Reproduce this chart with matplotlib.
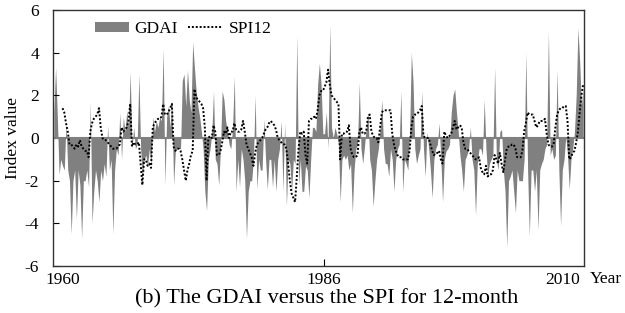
import matplotlib
matplotlib.use("Agg")
import matplotlib.pyplot as plt
import matplotlib.transforms as mtransforms
import numpy as np
from matplotlib.lines import Line2D
from matplotlib.patches import Patch

# Values, 6 readings per year (roughly bi-monthly)
start_year = 1960
steps_per_year = 6

gdai = [
    1.2, 3.3, 1.0, -1.7, -1.0, -1.3,      # 1960
    -1.5, 0.7, -1.5, -2.0, -4.5, -2.0,    # 1961
    -1.5, -3.8, -1.5, -2.2, -4.7, -2.0,   # 1962
    -2.0, -1.5, -2.3, 1.7, -4.0, -2.5,    # 1963
    -1.5, -2.0, -3.0, -1.5, -2.0, -1.2,   # 1964
    -1.8, 0.6, -1.5, -1.0, -4.5, -1.5,    # 1965
    -0.5, -0.8, 1.2, -1.0, 1.0, 0.3,      # 1966
    1.3, 0.5, 3.1, -0.5, 0.5, -0.5,       # 1967
    -0.3, 3.0, -0.5, -1.8, -1.0, -0.8,    # 1968
    -1.3, -0.5, -1.3, 1.0, 0.3, 0.8,      # 1969
    0.5, 1.0, 0.8, 4.2, -2.2, 1.0,        # 1970
    1.5, 0.5, 1.8, -2.2, -0.6, -0.5,      # 1971
    -0.5, -0.5, 2.7, 3.0, 1.5, 3.2,       # 1972
    1.8, 1.2, 4.5, 3.3, 2.2, 1.5,         # 1973
    1.0, 0.3, -0.5, -2.5, -3.4, -1.0,     # 1974
    -0.5, 0.2, 2.2, -1.0, -1.2, -2.2,     # 1975
    -0.5, 2.2, 1.8, 0.8, 0.3, -0.3,       # 1976
    -0.5, 0.5, 2.9, -2.5, -1.0, -2.3,     # 1977
    -0.5, -1.0, -2.0, -4.7, -2.5, -2.0,   # 1978
    -2.0, -1.0, 2.0, -2.4, -1.0, -1.5,    # 1979
    -1.5, 0.9, -1.0, -2.4, -1.0, -1.0,    # 1980
    -2.3, -1.0, -2.5, -1.0, -0.5, 0.8,    # 1981
    -2.5, 0.7, -3.2, -1.0, -1.2, -2.5,    # 1982
    -1.0, -1.2, 4.8, -2.2, -1.0, -2.5,    # 1983
    -2.5, -1.3, -1.5, -2.8, -1.0, 0.5,    # 1984
    0.5, 0.3, 2.5, 3.5, 2.5, 0.2,         # 1985
    0.2, 1.2, -0.5, 5.3, 0.5, 0.0,        # 1986
    0.5, 0.2, -0.3, -3.0, -1.0, -0.8,     # 1987
    -1.0, -0.8, -1.5, -1.2, -3.5, -1.5,   # 1988
    -0.5, -0.3, 2.6, -0.5, -1.2, -0.4,    # 1989
    0.5, 1.2, -1.0, -1.5, -3.2, -2.0,     # 1990
    -1.0, -0.5, 0.5, 1.8, -0.5, -1.2,     # 1991
    -1.2, -1.8, -0.5, -1.0, -2.5, -1.0,   # 1992
    -0.5, -0.3, 2.2, -2.5, -1.0, -1.2,    # 1993
    -1.5, 0.2, 4.0, 2.6, -0.5, -1.2,      # 1994
    -0.8, -0.5, 2.2, -0.5, -1.8, 0.3,     # 1995
    -0.5, -1.5, -2.8, -1.0, -0.5, -0.3,   # 1996
    0.7, -1.0, -3.0, -1.0, -0.6, -0.5,    # 1997
    -0.3, 1.2, 2.0, 2.3, 1.2, 0.3,        # 1998
    -0.8, -1.5, -2.5, -1.0, -0.8, -0.5,   # 1999
    0.5, -1.0, -1.5, -3.6, -1.2, -0.5,    # 2000
    -0.5, -0.8, 1.8, -0.5, -1.8, -1.2,    # 2001
    -1.0, -0.8, 3.3, -1.0, -1.5, 0.3,     # 2002
    0.4, -1.5, -2.5, -5.1, -2.0, -1.8,    # 2003
    -1.5, -2.5, -3.5, -1.5, -2.0, -2.0,   # 2004
    -2.0, -1.0, 4.0, -1.5, -4.6, -1.5,    # 2005
    -1.5, -2.5, -1.5, -4.3, -1.5, -1.2,   # 2006
    -1.0, -0.5, -0.3, 5.0, -0.8, -0.5,    # 2007
    -1.0, -0.8, 3.2, -1.5, -4.1, -1.5,    # 2008
    -1.0, 0.1, -0.8, -2.4, -1.0, -0.5,    # 2009
    0.3, 2.0, 5.15, 3.6, 1.5, 2.4,        # 2010
]

spi12 = [
    np.nan, np.nan, np.nan, np.nan, np.nan, 1.4,  # 1960
    1.2, 0.7, 0.3, -0.3, -0.3, -0.4,      # 1961
    -0.5, -0.3, -0.4, -0.1, -0.4, -0.5,   # 1962
    -0.6, -0.6, -0.9, 0.3, 0.7, 0.9,      # 1963
    1.0, 1.1, 1.4, 0.5, 0.0, -0.1,        # 1964
    -0.1, -0.2, -0.3, -0.4, -0.5, -0.5,   # 1965
    -0.5, -0.4, -0.3, 0.5, 0.3, 0.4,      # 1966
    0.5, 0.8, 1.6, -0.4, -0.2, -0.3,      # 1967
    -0.3, -0.2, -1.2, -2.2, -1.0, -1.0,   # 1968
    -1.3, -1.2, -1.4, 0.5, 0.7, 0.8,      # 1969
    0.9, 0.9, 1.0, 1.6, 1.1, 1.1,         # 1970
    1.2, 1.4, 1.6, -0.4, -0.6, -0.5,      # 1971
    -0.5, -0.6, -1.0, -1.5, -2.0, -1.5,   # 1972
    -1.2, -0.8, -0.6, 2.3, 1.9, 1.8,      # 1973
    1.7, 1.6, 1.4, 0.5, -2.0, 0.0,        # 1974
    0.1, 0.0, 0.6, 0.3, -0.8, -0.8,       # 1975
    -0.6, -0.2, 0.3, 0.2, 0.5, 0.0,       # 1976
    0.3, 0.3, 0.7, 0.4, 0.3, 0.3,         # 1977
    0.4, 0.8, 0.3, -0.3, -0.5, -0.7,      # 1978
    -0.9, -1.3, -0.7, -0.3, -0.2, -0.1,   # 1979
    0.0, 0.2, 0.4, 0.5, 0.7, 0.8,         # 1980
    0.7, 0.6, 0.4, 0.0, -0.1, -0.2,       # 1981
    -0.3, -0.3, -0.5, -1.2, -2.0, -2.6,   # 1982
    -2.8, -3.0, -1.8, -0.5, 0.3, 0.2,     # 1983
    0.3, -0.8, -1.2, 0.8, 0.9, 0.9,       # 1984
    1.0, 0.9, 1.3, 2.0, 2.2, 2.2,         # 1985
    2.4, 2.6, 3.2, 2.5, 2.0, 1.9,         # 1986
    1.8, 1.7, 1.6, -1.0, 0.2, 0.2,        # 1987
    0.3, 0.3, 0.6, -0.5, -0.8, -0.9,      # 1988
    -0.9, -0.8, 0.3, 0.5, 0.2, 0.2,       # 1989
    0.3, 1.0, 1.1, 0.3, 0.1, 0.0,         # 1990
    0.0, -0.2, 0.5, 1.2, 1.3, 1.3,        # 1991
    1.3, 1.3, 1.3, 0.2, -0.3, -0.6,       # 1992
    -0.8, -0.9, -0.9, -1.0, -1.0, -1.0,   # 1993
    -1.0, -0.6, 0.5, 1.0, 1.1, 1.1,       # 1994
    1.2, 1.3, 1.5, 0.1, 0.0, 0.0,         # 1995
    0.0, -0.3, -0.6, -0.8, -0.7, -0.7,    # 1996
    -0.6, -1.0, -1.2, 0.3, 0.1, 0.0,      # 1997
    0.1, 0.2, 0.5, 0.8, 0.4, 0.5,         # 1998
    0.6, 0.5, -0.2, -0.5, -0.5, -0.6,     # 1999
    -0.7, -0.8, -0.9, -1.0, -1.0, -0.9,   # 2000
    -1.4, -1.6, -1.7, -1.3, -1.8, -1.7,   # 2001
    -1.7, -1.5, -0.8, -1.0, -1.2, -0.7,   # 2002
    -1.2, -1.6, -1.0, -0.5, -0.4, -0.4,   # 2003
    -0.3, -0.3, -0.5, -0.9, -0.9, -0.9,   # 2004
    -0.6, 0.3, 0.7, 1.2, 1.1, 1.1,        # 2005
    1.1, 0.8, 0.5, 0.6, 0.8, 0.8,         # 2006
    0.8, 0.9, 0.2, -0.3, -0.4, -0.4,      # 2007
    -0.3, 0.5, 1.1, 1.3, 1.4, 1.4,        # 2008
    1.5, 1.5, 0.8, -1.0, -0.9, -0.7,      # 2009
    -0.6, -0.2, 0.3, 1.2, 2.0, 2.5,       # 2010
]

year_ticks = [1960, 1986, 2010]
year_labels = ["1960", "1986", "2010"]

plt.rcParams['font.family'] = ['Liberation Serif', 'DejaVu Serif']
plt.rcParams['font.size'] = 12.5
plt.rcParams['axes.unicode_minus'] = False

# time axis: middle of each 2-month step
t = start_year + (np.arange(len(gdai)) + 0.5) / steps_per_year
gdai = np.array(gdai)
spi12 = np.array(spi12)

fig = plt.figure(figsize=(6.25, 3.13), dpi=100)
ax = fig.add_axes([0.0848, 0.150, 0.8496, 0.818])

gray = '#808080'
ax.fill_between(t, gdai, 0, color=gray, linewidth=0)
ax.axhline(0, color=gray, linewidth=1.5)
ax.plot(t, spi12, color='black', linestyle=(0, (1, 1)), linewidth=1.4)

ax.set_xlim(1960, 2011)
ax.set_ylim(-6, 6)
ax.set_yticks(np.arange(-6, 7, 2))
ax.tick_params(axis='y', direction='in', length=4, pad=10)
ax.tick_params(axis='x', direction='in', length=5, pad=4)
ax.set_xticks(year_ticks)
ax.set_xticklabels(year_labels)

# only the middle year gets a visible tick mark; end labels nudged like the original
xticks = ax.xaxis.get_major_ticks()
for i in (0, 2):
    xticks[i].tick1line.set_visible(False)
shifts = [7, 0, -8]  # points
for lab, dx in zip(ax.get_xticklabels(), shifts):
    off = mtransforms.ScaledTranslation(dx / 72, 0, fig.dpi_scale_trans)
    lab.set_transform(lab.get_transform() + off)

for side in ax.spines.values():
    side.set_color('#333333')
    side.set_linewidth(1)

ax.set_ylabel('Index value')
ax.yaxis.set_label_coords(-0.06, 0.5)
ax.text(1.011, -0.02, 'Year', transform=ax.transAxes, ha='left', va='top')

handles = [Patch(facecolor=gray, edgecolor='none'),
           Line2D([], [], color='black', linestyle=(0, (1, 1)), linewidth=1.4)]
ax.legend(handles, ['GDAI', 'SPI12'], loc='center left', bbox_to_anchor=(0.062, 0.926),
          ncol=2, frameon=False, borderpad=0, handlelength=2.0, handleheight=0.5,
          handletextpad=0.3, columnspacing=0.6)

fig.text(0.522, 0.046, '(b) The GDAI versus the SPI for 12-month', ha='center', va='center',
         fontsize=16)

fig.savefig('out.png', dpi=100)
